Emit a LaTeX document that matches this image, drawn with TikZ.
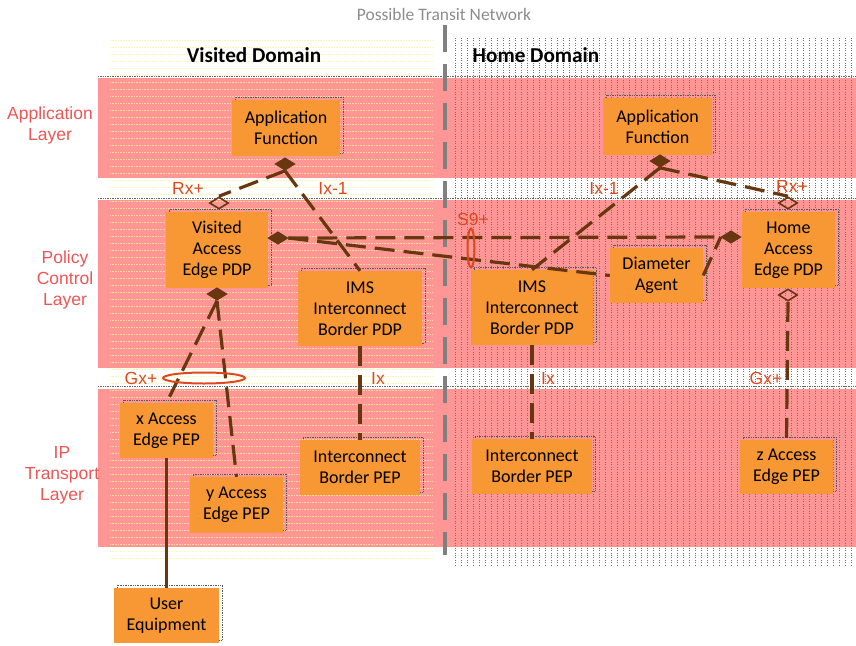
\documentclass[tikz,border=0pt]{standalone}
\usepackage{fontspec}
\setmainfont{Carlito}
\newfontfamily\arialfont{Liberation Sans}
\usetikzlibrary{shapes.geometric}

\definecolor{bandpink}{RGB}{255,150,150}
\definecolor{boxorange}{RGB}{248,152,52}
\definecolor{linkbrown}{RGB}{105,55,15}
\definecolor{ifred}{RGB}{222,72,30}
\definecolor{layerred}{RGB}{238,85,85}
\definecolor{transitgray}{RGB}{140,140,140}
\definecolor{dividergray}{RGB}{128,128,128}
\definecolor{grainyellow}{RGB}{250,245,150}

\tikzset{
  entity/.style={fill=boxorange, draw=none, inner sep=0pt, align=center,
    font=\fontsize{18}{21}\selectfont,
    preaction={draw=black!65, densely dotted, line width=0.7pt,
      transform canvas={xshift=3pt, yshift=3pt}}},
  gem/.style={diamond, inner sep=0pt, minimum width=19pt, minimum height=12pt,
    draw=linkbrown, line width=1.6pt, fill=linkbrown},
  opengem/.style={gem, fill=none},
  link/.style={draw=linkbrown, line width=3.2pt, dash pattern=on 20pt off 9pt},
  solidlink/.style={draw=linkbrown, line width=3pt},
  ifname/.style={text=ifred, font=\arialfont\fontsize{17.5}{20}\selectfont, inner sep=0pt},
  layername/.style={text=layerred, font=\arialfont\fontsize{17.5}{21}\selectfont, align=center, inner sep=0pt},
  domainname/.style={font=\bfseries\fontsize{21.2}{25}\selectfont, inner sep=0pt},
  bundle/.style={draw=ifred, line width=2pt},
}

\begin{document}
\begin{tikzpicture}[x=1pt, y=-1pt]
\useasboundingbox (0,0) rectangle (856,645);

% layer bands
\fill[bandpink] (98,78) rectangle (856,178);
\fill[bandpink] (98,200) rectangle (856,368);
\fill[bandpink] (98,389) rectangle (856,547);

% grain of the two domain areas
\foreach \yy in {40,47,...,560}
  \draw[grainyellow, densely dotted, line width=0.6pt, opacity=0.7] (110,\yy) -- (433,\yy);
\foreach \xx in {455,461,...,855}
  \draw[black!55, dotted, line width=0.45pt] (\xx,38) -- (\xx,565);

% band borders
\foreach \yy in {76,198,386}
  \draw[black!60, densely dotted, line width=0.7pt] (98,\yy) -- (856,\yy);

% transit network divider
\draw[dividergray, line width=4pt, dash pattern=on 27pt off 12pt] (445,25) -- (445,555);
\node[text=transitgray, font=\fontsize{17.5}{20}\selectfont, inner sep=0pt] (transit) at (444,14) {Possible Transit Network};

% domain titles
\node[domainname] (vdom) at (254,55) {Visited Domain};
\node[domainname] (hdom) at (536,55) {Home Domain};

% layer names
\node[layername] (lapp) at (50,125) {Application\\Layer};
\node[layername] (lpol) at (65,280) {Policy\\Control\\Layer};
\node[layername] (lip) at (62,475) {IP\\Transport\\Layer};

% functional entities
\node[entity, minimum width=108pt, minimum height=56pt] (afv) at (286,128) {Application\\Function};
\node[entity, minimum width=109pt, minimum height=57pt] (afh) at (657.5,126.5) {Application\\Function};
\node[entity, minimum width=102pt, minimum height=76pt] (pdpv) at (217,250) {Visited\\Access\\Edge PDP};
\node[entity, minimum width=124pt, minimum height=75pt] (imsv) at (360,308.5) {IMS\\Interconnect\\Border PDP};
\node[entity, minimum width=122pt, minimum height=75pt] (imsh) at (532,307.5) {IMS\\Interconnect\\Border PDP};
\node[entity, minimum width=93pt, minimum height=55pt] (dia) at (656.5,275.5) {Diameter\\Agent};
\node[entity, minimum width=93pt, minimum height=76pt] (pdph) at (788.5,250) {Home\\Access\\Edge PDP};
\node[entity, minimum width=93pt, minimum height=55pt] (xpep) at (166.5,430.5) {x Access\\Edge PEP};
\node[entity, minimum width=93pt, minimum height=56pt] (ypep) at (236.5,505) {y Access\\Edge PEP};
\node[entity, minimum width=120pt, minimum height=55pt] (ibpv) at (360,467.5) {Interconnect\\Border PEP};
\node[entity, minimum width=120pt, minimum height=55pt] (ibph) at (532,466.5) {Interconnect\\Border PEP};
\node[entity, minimum width=93pt, minimum height=54pt] (zpep) at (786.5,467) {z Access\\Edge PEP};
\node[entity, minimum width=105pt, minimum height=55pt] (ue) at (166.5,615.5) {User\\Equipment};

% association ends
\node[gem] (afvend) at (285,164) {};
\node[opengem] (rxv) at (219,203) {};
\node[gem] (pdpvside) at (278,238) {};
\node[gem] (pdpvfoot) at (217,294) {};
\node[gem] (afhend) at (660,161) {};
\node[opengem] (rxh) at (788,203) {};
\node[gem] (pdphside) at (731,237) {};
\node[opengem] (pdphfoot) at (788,295) {};

% reference points
\draw[link] (afvend.south) -- (rxv.north);
\draw[link] (afvend.south) -- (imsv.north);
\draw[link] (afhend.south) -- (rxh.north);
\draw[link] (afhend.south) -- (imsh.north);
\draw[link] (pdpvside.east) -- (pdphside.west);
\draw[link] (pdpvside.east) -- (dia.west);
\draw[link] (dia.east) -- (pdphside.west);
\draw[link] (pdpvfoot.south) -- (xpep.north);
\draw[link] (pdpvfoot.south) -- (ypep.north);
\draw[link] (imsv.south) -- (ibpv.north);
\draw[link] (imsh.south) -- (ibph.north);
\draw[link] (pdphfoot.south) -- (zpep.north);
\draw[solidlink] (xpep.south) -- (ue.north);

% interface bundles
\draw[bundle] (204,378) ellipse [x radius=41, y radius=5.5];
\draw[bundle] (471,248) ellipse [x radius=3.5, y radius=19.5];

% interface names
\node[ifname] (rxvl) at (188,188) {Rx+};
\node[ifname] (ixvl) at (333,188) {Ix-1};
\node[ifname] (s9l) at (473,219) {S9+};
\node[ifname] (gxvl) at (141,378) {Gx+};
\node[ifname] (ixv2l) at (378,378) {Ix};
\node[ifname] (ixhl) at (604,188) {Ix-1};
\node[ifname] (rxhl) at (792,186) {Rx+};
\node[ifname] (ixh2l) at (548,378) {Ix};
\node[ifname] (gxhl) at (766,378) {Gx+};
\end{tikzpicture}
\end{document}
